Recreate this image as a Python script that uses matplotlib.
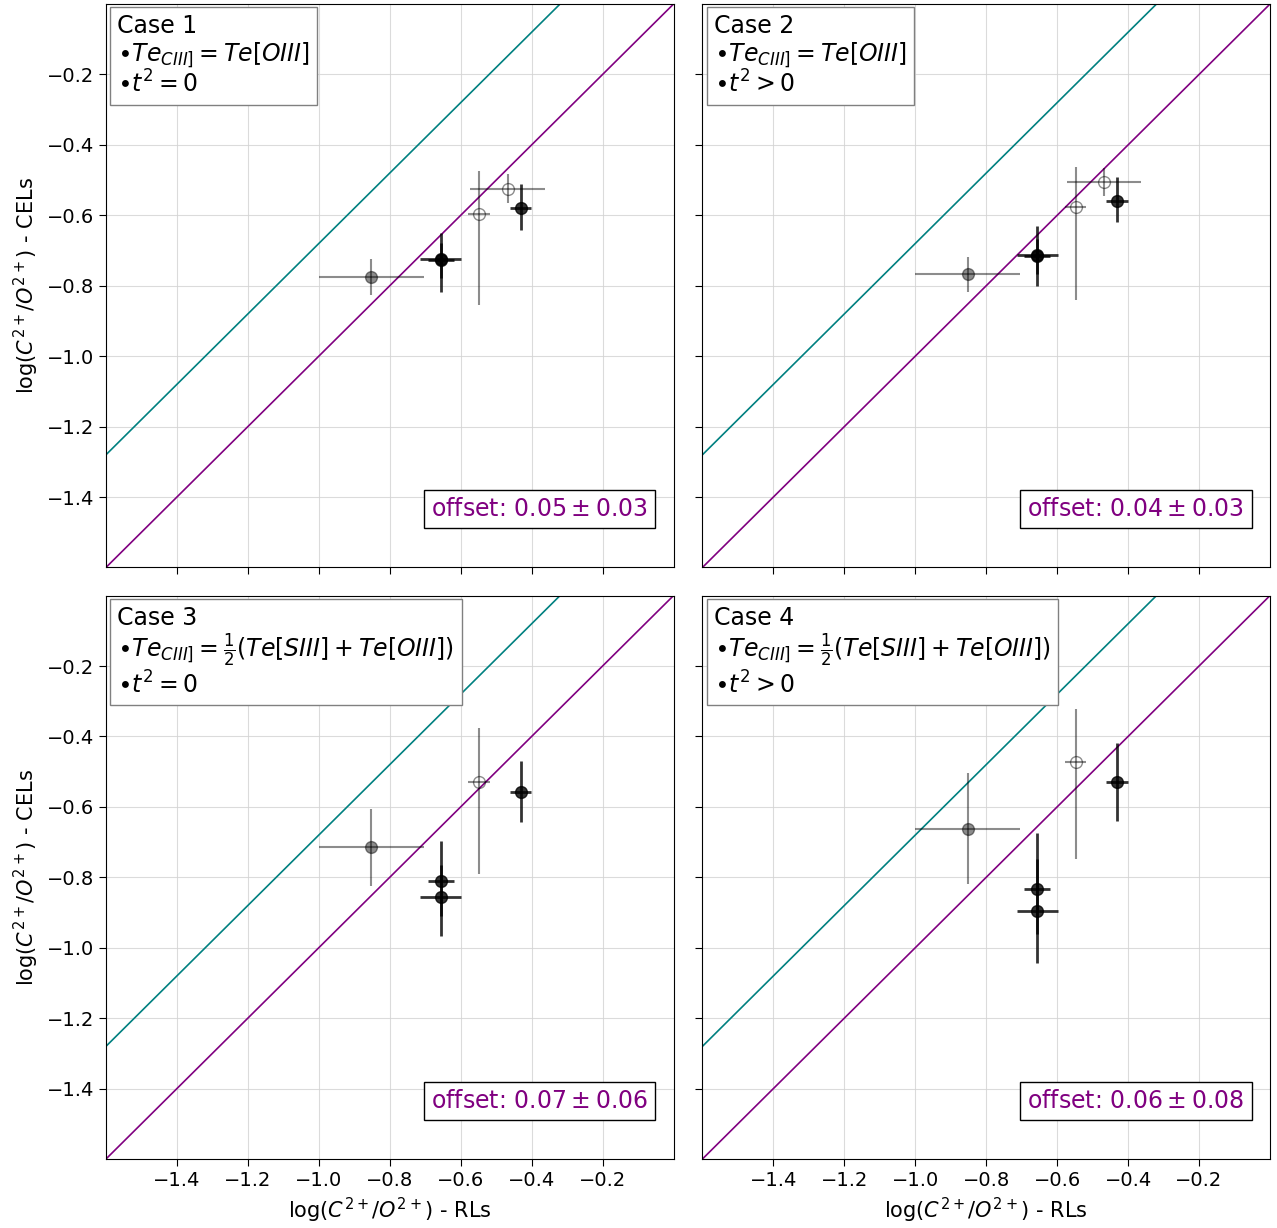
import numpy as np
import matplotlib
matplotlib.use("Agg")
import matplotlib.pyplot as plt

OFFSET_LINE = 0.32

cases = ["Case 1", "Case 2", "Case 3", "Case 4"]
te_lines = [r"$\bullet Te_{CIII]} = Te[OIII]$",
            r"$\bullet Te_{CIII]} = Te[OIII]$",
            r"$\bullet Te_{CIII]} = \frac{1}{2}(Te[SIII] + Te[OIII])$",
            r"$\bullet Te_{CIII]} = \frac{1}{2}(Te[SIII] + Te[OIII])$"]
t2_lines = [r"$\bullet t^2 = 0$", r"$\bullet t^2 > 0$",
            r"$\bullet t^2 = 0$", r"$\bullet t^2 > 0$"]
offsets = [r"offset: $0.05 \pm 0.03$", r"offset: $0.04 \pm 0.03$",
           r"offset: $0.07 \pm 0.06$", r"offset: $0.06 \pm 0.08$"]

# RL values (x) per object, same in every panel
rl_x = [-0.852, -0.656, -0.656, -0.548, -0.468, -0.431]
rl_xerr = [0.148, 0.058, 0.037, 0.030, 0.105, 0.030]
kind = ["gray", "black", "black", "open", "open", "black"]

# CEL values (y) per panel; None where the object is absent
cel_y = [
    [-0.775, -0.724, -0.728, -0.597, -0.524, -0.580],
    [-0.767, -0.712, -0.716, -0.576, -0.506, -0.558],
    [-0.715, -0.857, -0.810, -0.528, None, -0.557],
    [-0.662, -0.895, -0.832, -0.473, None, -0.530],
]
cel_yerr_lo = [
    [0.050, 0.095, 0.050, 0.258, 0.040, 0.062],
    [0.050, 0.090, 0.050, 0.265, 0.040, 0.060],
    [0.110, 0.110, 0.100, 0.262, None, 0.087],
    [0.157, 0.148, 0.130, 0.275, None, 0.110],
]
cel_yerr_hi = [
    [0.050, 0.075, 0.050, 0.123, 0.040, 0.070],
    [0.050, 0.082, 0.050, 0.114, 0.040, 0.068],
    [0.110, 0.092, 0.114, 0.151, None, 0.087],
    [0.157, 0.148, 0.159, 0.150, None, 0.110],
]

plt.rcParams['font.family'] = 'DejaVu Sans'

fig, axes = plt.subplots(2, 2, figsize=(12.77, 12.28), dpi=100,
                         sharex=True, sharey=True)
fig.subplots_adjust(left=0.083, right=0.9945, top=0.9967, bottom=0.0562,
                    wspace=0.051, hspace=0.05)

line_x = np.array([-1.6, 0.0])

for i, ax in enumerate(axes.flat):
    ax.plot(line_x, line_x + OFFSET_LINE, color='teal', lw=1.2)
    ax.plot(line_x, line_x, color='purple', lw=1.2)

    for j in range(len(rl_x)):
        y = cel_y[i][j]
        if y is None:
            continue
        yerr = [[cel_yerr_lo[i][j]], [cel_yerr_hi[i][j]]]
        if kind[j] == "gray":
            ax.errorbar(rl_x[j], y, xerr=rl_xerr[j], yerr=yerr, fmt='o',
                        color='black', alpha=0.45, ms=8.5, elinewidth=1.5)
        elif kind[j] == "open":
            ax.errorbar(rl_x[j], y, xerr=rl_xerr[j], yerr=yerr, fmt='o',
                        color='black', mfc='none', alpha=0.45, ms=8.5,
                        elinewidth=1.5)
        else:
            ax.errorbar(rl_x[j], y, xerr=rl_xerr[j], yerr=yerr, fmt='o',
                        color='black', alpha=0.8, ms=8.5, elinewidth=2)

    ax.set_xlim(-1.6, 0.0)
    ax.set_ylim(-1.6, 0.0)
    ax.set_xticks(np.arange(-1.4, -0.1, 0.2))
    ax.set_yticks(np.arange(-1.4, -0.1, 0.2))
    ax.grid(True, color='lightgray', alpha=0.8)
    ax.tick_params(labelsize=14, length=5)

    ax.text(0.02, 0.982, cases[i] + "\n" + te_lines[i] + "\n" + t2_lines[i],
            transform=ax.transAxes, ha='left', va='top', fontsize=17,
            linespacing=1.08,
            bbox=dict(boxstyle='square,pad=0.3', facecolor='white',
                      edgecolor='gray'))
    ax.text(0.955, 0.082, offsets[i], transform=ax.transAxes,
            ha='right', va='bottom', fontsize=17, color='purple',
            bbox=dict(boxstyle='square,pad=0.3', facecolor='white',
                      edgecolor='black'))

for ax in axes[1]:
    ax.set_xlabel(r"log($C^{2+}/O^{2+}$) - RLs", fontsize=15)
for ax in axes[:, 0]:
    ax.set_ylabel(r"log($C^{2+}/O^{2+}$) - CELs", fontsize=15)

fig.savefig("out.png", dpi=100)
